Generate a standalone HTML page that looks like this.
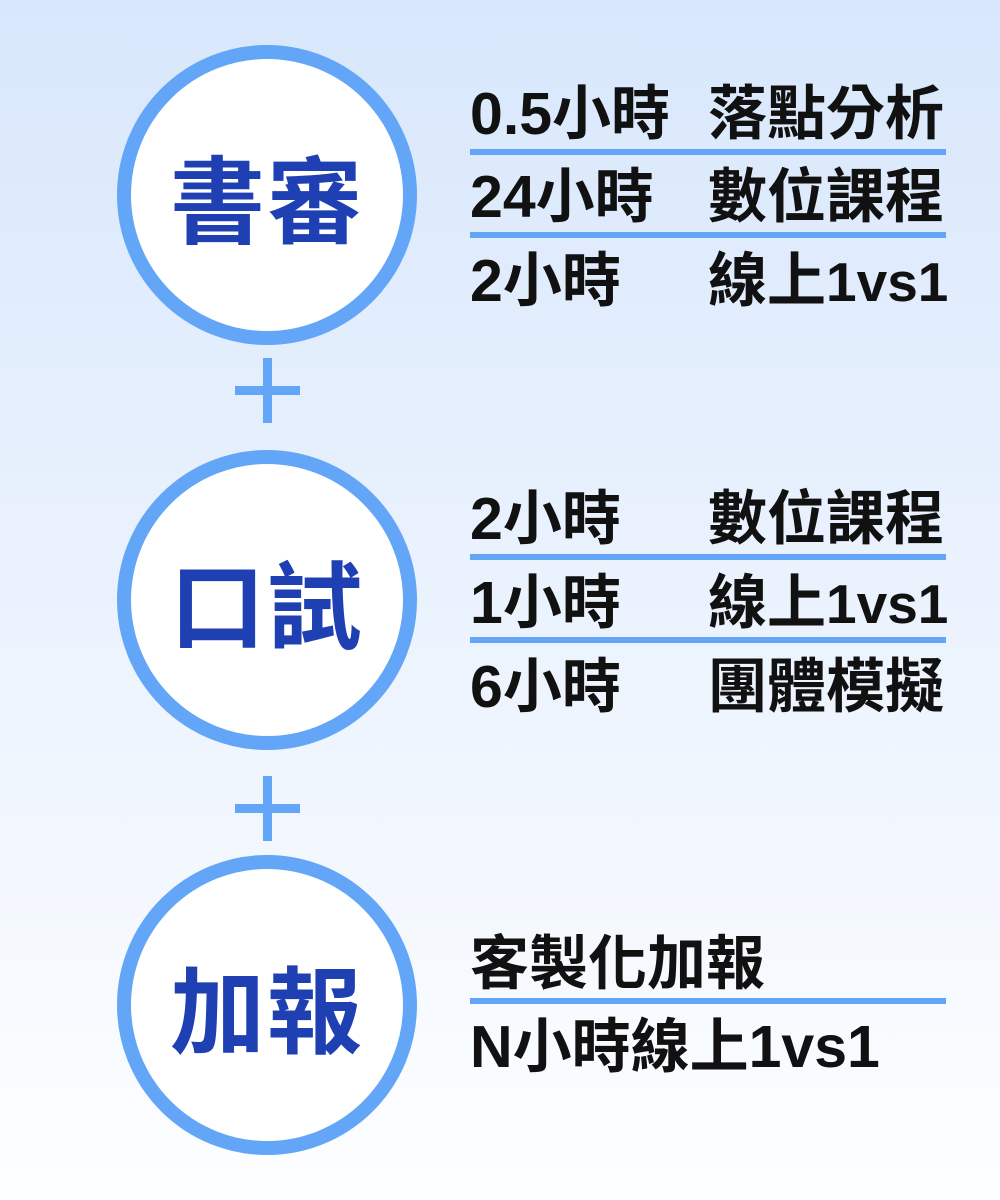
<!DOCTYPE html>
<html><head><meta charset="utf-8"><style>
body{margin:0;width:1000px;height:1200px;overflow:hidden;background:linear-gradient(#d8e7fc,#fdfeff);position:relative;font-family:"Liberation Sans","Noto Sans CJK TC",sans-serif;}
.c{position:absolute;left:117px;width:272px;height:272px;border:14px solid #63a5f7;border-radius:50%;background:#fff;display:flex;align-items:center;justify-content:center;font-weight:bold;font-size:95px;color:#1f40b2;letter-spacing:2px;}
.ph{position:absolute;left:235px;width:65px;height:9px;background:#63a5f7}
.pv{position:absolute;left:263px;width:9px;height:65px;background:#63a5f7}
.t{position:absolute;font-size:59px;font-weight:bold;color:#111;line-height:60px;white-space:nowrap}
.s{font-size:55px}
.d{position:absolute;left:470px;width:476px;height:6px;background:#63a5f7}
</style></head><body>
<div class="c" style="top:45px">書審</div>
<div class="c" style="top:450px">口試</div>
<div class="c" style="top:855px">加報</div>
<div class="ph" style="top:386px"></div><div class="pv" style="top:358px"></div>
<div class="ph" style="top:804px"></div><div class="pv" style="top:776px"></div>

<div class="t" style="left:470px;top:84px">0.5小時</div><div class="t" style="left:708px;top:84px">落點分析</div>
<div class="d" style="top:149px"></div>
<div class="t" style="left:470px;top:167px">24小時</div><div class="t" style="left:708px;top:167px">數位課程</div>
<div class="d" style="top:232px"></div>
<div class="t" style="left:470px;top:251px">2小時</div><div class="t" style="left:708px;top:251px">線上<span class="s">1vs1</span></div>

<div class="t" style="left:470px;top:489px">2小時</div><div class="t" style="left:708px;top:489px">數位課程</div>
<div class="d" style="top:554px"></div>
<div class="t" style="left:470px;top:573px">1小時</div><div class="t" style="left:708px;top:573px">線上<span class="s">1vs1</span></div>
<div class="d" style="top:637px"></div>
<div class="t" style="left:470px;top:657px">6小時</div><div class="t" style="left:708px;top:657px">團體模擬</div>

<div class="t" style="left:470px;top:934px">客製化加報</div>
<div class="d" style="top:998px"></div>
<div class="t" style="left:470px;top:1017px">N小時線上1vs1</div>
</body></html>
